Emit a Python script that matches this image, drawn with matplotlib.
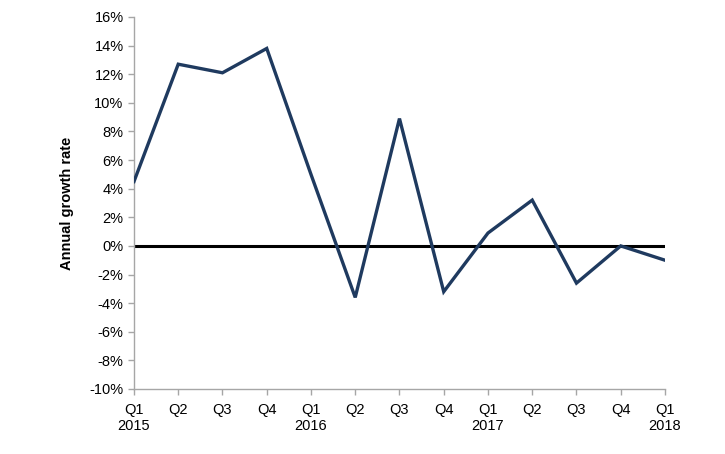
import matplotlib.pyplot as plt
import matplotlib.ticker as mticker

plt.rcParams["font.family"] = ["Liberation Sans", "DejaVu Sans"]

quarters = ["Q1\n2015", "Q2", "Q3", "Q4", "Q1\n2016", "Q2", "Q3", "Q4",
            "Q1\n2017", "Q2", "Q3", "Q4", "Q1\n2018"]
growth = [4.5, 12.7, 12.1, 13.8, 5.0, -3.6, 8.9, -3.2, 0.9, 3.2, -2.6, 0.0, -1.0]

fig = plt.figure(figsize=(7.25, 4.54), dpi=100)
ax = fig.add_axes([0.1848, 0.1432, 0.7324, 0.8194])

x = list(range(len(quarters)))
ax.axhline(0, color="black", linewidth=2.2, zorder=2)
ax.plot(x, growth, color="#1f3a5f", linewidth=2.4, zorder=3, solid_joinstyle="miter")

ax.set_xlim(0, len(quarters) - 1)
ax.set_ylim(-10, 16)
ax.set_xticks(x)
ax.set_xticklabels(quarters)
ax.yaxis.set_major_locator(mticker.MultipleLocator(2))
ax.yaxis.set_major_formatter(mticker.FuncFormatter(lambda v, _: f"{v:.0f}%"))

for side in ("top", "right"):
    ax.spines[side].set_visible(False)
for side in ("left", "bottom"):
    ax.spines[side].set_color("#a6a6a6")
    ax.spines[side].set_linewidth(1.0)
ax.tick_params(axis="both", colors="#a6a6a6", labelcolor="black", labelsize=10.5,
               length=4, width=1.0)
ax.tick_params(axis="x", pad=6)

ax.set_ylabel("Annual growth rate", fontsize=10.5, fontweight="bold", labelpad=11)

fig.savefig("out.png", dpi=100)
